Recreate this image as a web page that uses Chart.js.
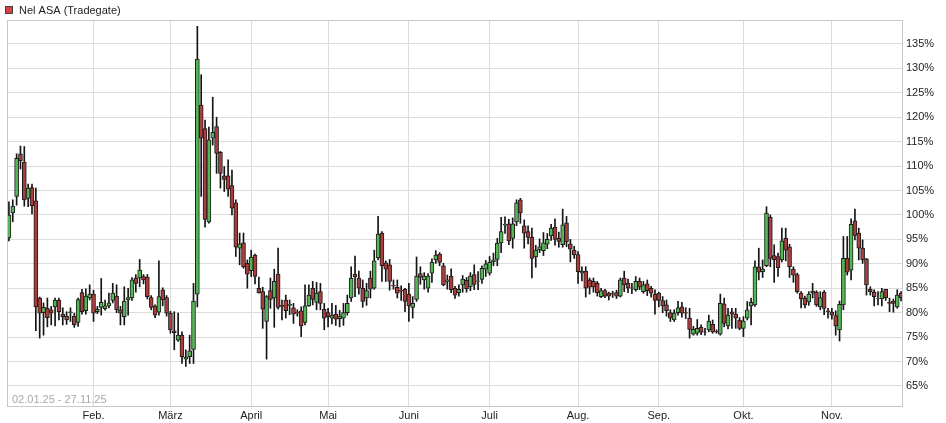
<!DOCTYPE html>
<html>
<head>
<meta charset="utf-8">
<script src="https://cdn.jsdelivr.net/npm/chart.js@4.4.1/dist/chart.umd.min.js"></script>
<style>
  body { margin: 0; background: #fff; }
  #wrap { width: 946px; height: 423px; position: relative; }
</style>
</head>
<body>
<div id="wrap"><canvas id="myChart"></canvas></div>
<script>
// Nel ASA (Tradegate), 02.01.25 - 27.11.25, in % of start
const SERIES_NAME = 'Nel ASA (Tradegate)'
const RANGE_TEXT = '02.01.25 - 27.11.25'
const FIRST_DAY = '2025-01-02'
const LAST_DAY = '2025-11-27'
const HOLIDAYS = ['2025-04-18', '2025-04-21', '2025-05-01']
const MONTHS = ['Jan.', 'Feb.', 'März', 'April', 'Mai', 'Juni', 'Juli', 'Aug.', 'Sep.', 'Okt.', 'Nov.', 'Dez.']
const Y_TICKS = [65, 70, 75, 80, 85, 90, 95, 100, 105, 110, 115, 120, 125, 130, 135]

const open = [
  95.3, 100.4, 103.8, 112.5, 110.8, 103.4, 105.6, 102.9, 83.0, 80.0, 80.9, 80.6, 81.2, 82.6, 79.7, 79.3, 80.0, 79.3, 78.0, 84.1, 80.4, 83.0,
  83.8, 80.2, 81.1, 80.8, 81.4, 82.5, 83.4, 80.6, 79.2, 82.6, 83.0, 87.1, 87.1, 87.4, 87.3, 83.1, 81.4, 80.1, 84.7, 83.1,
  79.9, 76.3, 74.4, 75.4, 70.5, 71.0, 72.5, 83.8, 122.5, 117.7, 98.6, 115.7, 118.1, 112.8, 108.0, 108.0, 106.0, 102.5, 93.2, 94.3, 90.1,
  88.6, 91.8, 85.0, 84.3, 78.2, 84.5, 83.0, 87.9, 81.5, 82.6, 81.5, 81.0, 80.1, 80.4, 78.0, 81.4, 85.0, 82.1, 84.3, 80.7,
  80.0, 78.9, 79.7, 78.8, 78.9, 80.0, 83.0, 87.9, 87.1, 85.0, 83.0, 87.1, 85.0, 91.2, 96.3, 90.2, 89.8, 85.6, 85.2, 84.6, 84.8,
  83.8, 81.1, 82.7, 88.0, 86.7, 85.0, 88.1, 90.8, 92.0, 89.6, 86.4, 87.5, 85.0, 84.1, 85.7, 86.6, 85.3, 87.8, 86.4, 86.8, 88.9,
  88.1, 90.4, 90.9, 94.3, 97.9, 98.2, 95.2, 98.6, 103.1, 97.8, 96.6, 95.4, 91.4, 92.9, 92.7, 94.0, 95.7, 97.5, 95.2, 93.9, 98.4, 94.1, 92.8,
  91.9, 88.1, 88.5, 86.7, 86.4, 86.0, 83.3, 84.5, 84.0, 83.9, 84.1, 83.4, 87.1, 86.0, 85.1, 84.7, 86.4, 84.3, 85.9, 85.0, 83.8,
  84.0, 82.5, 81.6, 80.0, 78.5, 80.0, 81.2, 80.0, 78.9, 75.6, 75.8, 77.0, 76.1, 76.5, 77.6, 76.2, 75.6, 81.8, 77.3, 80.2, 79.7, 78.5,
  76.8, 78.9, 81.4, 81.6, 89.4, 88.4, 89.6, 99.5, 91.7, 91.5, 90.8, 95.2, 93.5, 88.9, 87.8, 84.0, 83.0, 82.2, 84.4, 84.2, 81.2, 84.2,
  80.4, 80.1, 79.4, 76.5, 81.6, 91.1, 88.7, 98.8, 96.3, 93.2, 91.0, 84.8, 84.2, 82.9, 82.8, 84.8, 82.1, 82.4, 81.2, 84.0
]
const high = [
  102.7, 103.1, 112.5, 114.1, 114.0, 106.3, 106.3, 105.5, 83.2, 82.0, 83.0, 81.3, 83.0, 83.0, 81.0, 80.2, 81.0, 79.9, 83.0, 84.8, 84.9, 85.7,
  84.6, 81.3, 87.0, 82.6, 84.0, 86.0, 85.7, 81.3, 85.3, 85.0, 87.2, 87.8, 90.9, 87.8, 87.8, 83.5, 81.6, 90.6, 85.1, 83.5,
  80.3, 80.2, 79.9, 76.1, 72.4, 75.4, 86.0, 138.6, 128.7, 119.4, 118.0, 124.1, 120.0, 113.0, 109.9, 111.3, 109.2, 103.1, 96.3, 96.3, 90.8,
  92.8, 92.0, 87.3, 85.2, 83.5, 87.1, 88.9, 93.2, 82.6, 83.6, 82.6, 81.9, 80.6, 81.2, 85.7, 85.7, 86.4, 86.2, 86.0, 81.9,
  80.9, 81.9, 81.5, 80.5, 81.9, 83.6, 89.4, 91.6, 88.5, 86.7, 86.0, 88.5, 92.8, 99.7, 96.6, 90.6, 90.9, 86.7, 86.7, 85.5, 85.0,
  86.0, 83.3, 91.4, 89.4, 88.2, 88.0, 91.0, 92.7, 92.3, 90.1, 87.7, 89.0, 85.4, 85.7, 87.6, 87.2, 88.2, 89.8, 88.4, 89.6, 90.7,
  91.5, 92.2, 95.2, 99.5, 99.6, 99.1, 99.4, 103.1, 103.4, 99.0, 97.8, 97.3, 93.8, 95.1, 96.4, 96.2, 98.1, 99.2, 96.5, 101.2, 99.7, 95.0, 93.6,
  92.5, 89.4, 89.4, 87.1, 87.1, 86.4, 85.0, 84.8, 84.2, 84.4, 84.6, 87.1, 88.5, 86.9, 86.0, 87.4, 87.1, 86.4, 86.7, 85.4, 84.7,
  84.2, 83.3, 82.6, 80.6, 80.6, 82.3, 82.1, 81.0, 80.9, 77.2, 78.6, 77.5, 76.8, 79.5, 78.5, 76.5, 83.8, 83.0, 80.9, 80.9, 80.9, 79.0,
  79.2, 82.3, 83.0, 90.6, 93.2, 90.8, 101.7, 100.0, 93.9, 92.2, 97.3, 97.3, 94.0, 89.4, 88.1, 84.3, 83.4, 84.3, 86.0, 84.5, 84.3, 84.5,
  80.9, 80.9, 80.4, 82.4, 95.6, 95.6, 99.2, 101.2, 97.3, 94.9, 91.1, 85.3, 84.7, 84.3, 85.0, 84.8, 83.0, 82.8, 84.7, 84.3
]
const low = [
  94.7, 98.6, 102.0, 109.4, 101.8, 101.7, 100.2, 76.3, 74.8, 75.4, 77.1, 77.5, 77.3, 78.5, 77.5, 77.6, 78.2, 77.0, 77.2, 79.7, 79.7, 82.6,
  78.2, 79.8, 79.5, 80.5, 81.0, 82.0, 80.0, 77.5, 77.5, 79.5, 82.5, 84.2, 85.3, 85.9, 82.8, 80.6, 79.0, 79.5, 81.4, 79.3,
  75.8, 72.4, 74.1, 69.6, 69.0, 69.6, 69.6, 81.2, 103.8, 97.5, 98.3, 114.3, 108.5, 105.5, 104.8, 103.8, 100.0, 91.5, 89.8, 89.1, 85.0,
  87.4, 85.9, 84.0, 76.8, 70.5, 80.9, 77.0, 80.7, 78.5, 78.9, 79.6, 77.8, 79.3, 75.1, 77.5, 81.3, 81.6, 80.6, 80.6, 76.5,
  77.1, 77.7, 77.4, 77.1, 77.4, 79.5, 82.3, 83.3, 83.8, 81.1, 81.5, 83.0, 84.8, 90.8, 86.4, 86.4, 84.6, 84.8, 83.0, 82.5, 80.2,
  78.2, 78.9, 82.3, 85.8, 84.8, 84.2, 86.2, 90.1, 89.6, 85.5, 84.8, 84.1, 82.9, 83.4, 84.2, 84.2, 84.5, 84.7, 84.7, 86.0, 87.4,
  87.7, 89.6, 89.6, 92.3, 96.2, 93.9, 93.2, 97.8, 98.3, 93.2, 94.1, 87.1, 89.3, 92.3, 91.7, 93.1, 94.8, 93.8, 93.4, 93.4, 93.5, 90.4, 91.1,
  86.0, 86.5, 83.2, 83.8, 84.2, 83.4, 83.1, 83.1, 82.6, 83.1, 82.9, 83.2, 84.3, 84.1, 83.9, 84.4, 84.7, 84.0, 83.5, 83.2, 79.7,
  81.2, 80.0, 79.3, 78.2, 78.2, 79.5, 79.1, 78.8, 74.8, 75.4, 75.4, 75.5, 75.4, 76.1, 75.8, 75.8, 75.4, 77.1, 76.7, 76.8, 76.8, 76.5,
  75.1, 78.5, 77.5, 81.3, 86.7, 87.2, 89.4, 89.4, 86.2, 87.4, 90.4, 90.6, 87.2, 86.2, 84.0, 81.0, 81.0, 81.5, 83.0, 81.3, 80.6, 79.6,
  78.9, 78.7, 75.4, 74.2, 80.6, 87.7, 86.7, 94.9, 90.8, 90.1, 83.6, 83.6, 81.4, 81.6, 81.4, 82.5, 80.2, 80.1, 80.9, 82.4
]
const close = [
  100.0, 101.8, 111.6, 111.1, 103.1, 105.5, 101.9, 81.2, 79.9, 81.1, 79.0, 79.9, 82.6, 80.2, 79.2, 78.5, 80.2, 77.5, 82.7, 80.2, 83.4, 83.8,
  79.9, 80.7, 82.1, 81.4, 82.0, 84.0, 80.6, 79.9, 82.4, 83.1, 86.7, 86.0, 88.7, 86.7, 83.3, 81.1, 79.5, 83.3, 82.6, 79.9,
  76.5, 75.9, 75.4, 71.0, 70.9, 72.2, 82.4, 131.9, 115.7, 99.1, 115.4, 116.9, 112.6, 108.5, 107.3, 105.3, 101.4, 93.4, 94.1, 89.4, 87.9,
  91.4, 87.4, 84.1, 80.7, 83.3, 82.7, 86.4, 81.1, 81.3, 80.4, 81.7, 79.7, 79.9, 77.3, 81.4, 83.6, 82.7, 84.0, 81.9, 78.9,
  79.2, 79.5, 78.7, 79.3, 80.0, 81.9, 87.1, 87.3, 85.0, 82.3, 84.5, 84.8, 90.6, 96.1, 89.6, 88.9, 86.4, 85.5, 84.0, 84.4, 82.3,
  81.4, 81.9, 87.5, 87.2, 87.5, 87.5, 90.3, 91.8, 90.3, 85.7, 86.7, 84.7, 83.6, 84.8, 86.9, 84.9, 87.5, 85.8, 86.5, 89.1, 90.0,
  90.3, 90.8, 94.2, 96.6, 98.1, 94.7, 98.2, 102.5, 100.4, 96.3, 95.4, 91.1, 92.8, 93.5, 94.3, 95.0, 97.3, 95.0, 94.6, 98.0, 94.5, 93.0, 91.8,
  88.4, 88.5, 85.0, 85.2, 85.3, 84.1, 84.5, 83.4, 83.4, 83.8, 83.4, 86.7, 85.7, 85.0, 85.0, 86.4, 85.2, 85.7, 84.5, 84.0, 82.5,
  82.5, 81.4, 80.4, 78.9, 79.9, 81.0, 79.9, 79.9, 76.6, 76.6, 76.8, 76.0, 76.0, 78.3, 76.0, 76.1, 81.9, 77.8, 79.5, 79.7, 78.9, 76.8,
  78.3, 80.6, 82.1, 89.4, 88.3, 88.9, 100.4, 91.1, 90.8, 89.2, 94.7, 92.8, 89.4, 87.7, 84.3, 82.8, 81.6, 83.8, 84.0, 81.6, 83.1, 80.9,
  80.2, 79.5, 77.3, 81.7, 91.1, 88.3, 98.1, 95.8, 93.2, 90.8, 85.7, 84.3, 83.3, 82.8, 84.3, 83.1, 81.9, 81.9, 83.6, 83.1
]

// trading days (Tradegate: Mon-Fri without the listed holidays)
const tradingDays = []
for (let d = new Date(FIRST_DAY + 'T12:00:00Z'); d <= new Date(LAST_DAY + 'T12:00:00Z'); d.setUTCDate(d.getUTCDate() + 1)) {
  const wd = d.getUTCDay()
  const iso = d.toISOString().slice(0, 10)
  if (wd === 0 || wd === 6 || HOLIDAYS.includes(iso)) continue
  tradingDays.push(iso)
}
const monthStart = tradingDays.map((iso, i) => i > 0 && iso.slice(5, 7) !== tradingDays[i - 1].slice(5, 7))

const GREEN = '#55b655'
const RED = '#a83d3d'
const up = i => close[i] >= open[i]

const frame = {
  id: 'frame',
  beforeDatasetsDraw(chart) {
    const {ctx, chartArea: a} = chart
    ctx.save()
    ctx.font = '11px "Liberation Sans", Arial, sans-serif'
    ctx.fillStyle = '#a8a8a8'
    ctx.textBaseline = 'alphabetic'
    ctx.fillText(RANGE_TEXT, a.left + 5, a.bottom - 4)
    ctx.restore()
  },
  afterDraw(chart) {
    const {ctx, chartArea: a} = chart
    ctx.save()
    ctx.strokeStyle = '#c8c8c8'
    ctx.lineWidth = 1
    ctx.strokeRect(Math.round(a.left) + 0.5, Math.round(a.top) + 0.5, Math.round(a.right - a.left) - 1, Math.round(a.bottom - a.top) - 1)
    // legend
    ctx.fillStyle = '#d94040'
    ctx.fillRect(5, 6, 8, 8)
    ctx.strokeStyle = '#444'
    ctx.strokeRect(5.5, 6.5, 7, 7)
    ctx.fillStyle = '#222'
    ctx.font = '11px "Liberation Sans", Arial, sans-serif'
    ctx.textBaseline = 'middle'
    ctx.fillText(SERIES_NAME, 19, 10.5)
    ctx.restore()
  }
}

var ctx = document.getElementById('myChart')
var myChart = new Chart(ctx, {
  type: 'bar',
  data: {
    labels: tradingDays,
    datasets: [{
      label: SERIES_NAME,
      data: open.map((o, i) => [o, close[i]]),
      backgroundColor: open.map((o, i) => up(i) ? GREEN : RED),
      borderColor: '#1c1c1c',
      borderWidth: 1,
      borderSkipped: false,
      barThickness: 4,
      grouped: false,
      order: 0
    }, {
      label: 'wick',
      data: low.map((l, i) => [l, high[i]]),
      backgroundColor: '#141414',
      borderWidth: 0,
      barThickness: 1,
      grouped: false,
      order: 1
    }]
  },
  options: {
    responsive: true,
    maintainAspectRatio: false,
    animation: false,
    layout: { padding: { left: 7, top: 20, right: 0, bottom: 0 } },
    plugins: {
      legend: { display: false },
      tooltip: { enabled: false }
    },
    scales: {
      x: {
        type: 'category',
        offset: true,
        afterFit: s => { s.height = 16 },
        grid: {
          offset: false,
          drawTicks: false,
          color: c => monthStart[c.index] ? '#dcdcdc' : 'rgba(0,0,0,0)'
        },
        border: { display: false },
        ticks: {
          autoSkip: false,
          maxRotation: 0,
          padding: 2,
          color: '#222',
          font: { family: '"Liberation Sans", Arial, sans-serif', size: 11 },
          callback: (v, i) => monthStart[i] ? MONTHS[parseInt(tradingDays[i].slice(5, 7)) - 1] : ''
        }
      },
      y: {
        position: 'right',
        min: 60.7,
        max: 139.9,
        afterFit: s => { s.width = 43 },
        afterBuildTicks: s => { s.ticks = Y_TICKS.map(v => ({ value: v })) },
        grid: { color: '#dcdcdc', drawTicks: false },
        border: { display: false },
        ticks: {
          padding: 3,
          color: '#222',
          font: { family: '"Liberation Sans", Arial, sans-serif', size: 11 },
          callback: v => v + '%'
        }
      }
    }
  },
  plugins: [frame]
})
</script>
</body>
</html>
